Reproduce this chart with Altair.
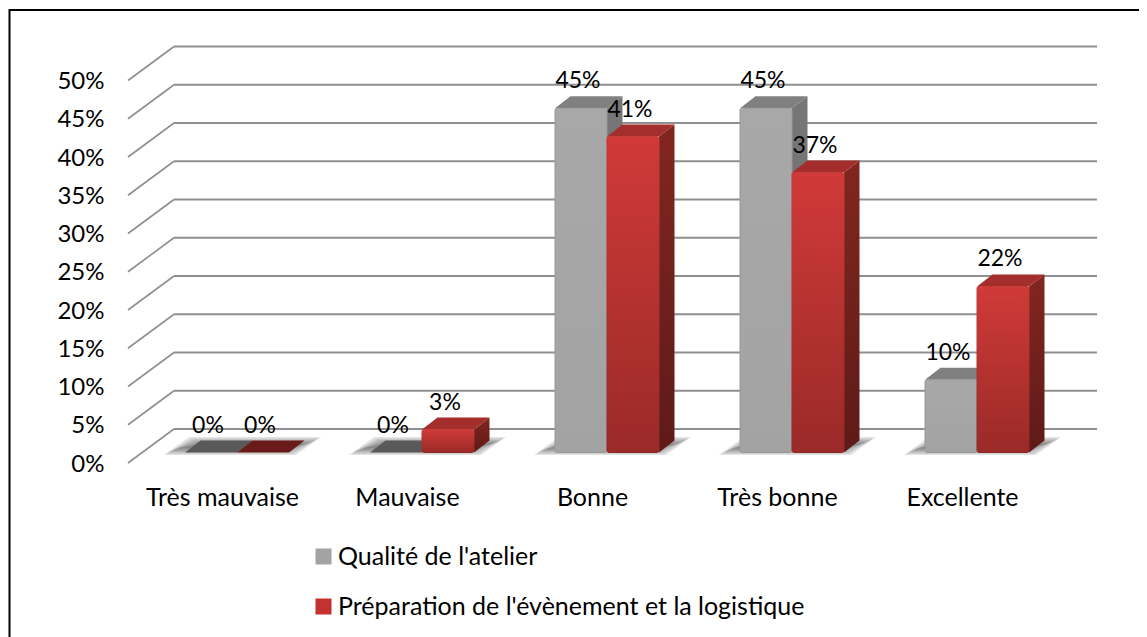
import altair as alt
import pandas as pd

categories = ["Très mauvaise", "Mauvaise", "Bonne", "Très bonne", "Excellente"]
series_names = ["Qualité de l'atelier", "Préparation de l'évènement et la logistique"]
qualite = [0, 0, 45, 45, 9.5]
preparation = [0, 3, 41.3, 36.6, 21.7]
ticks = list(range(0, 55, 5))

# geometry of the fake 3D, in scale units
PX_X = 185.0            # px per category
PX_Y = 7.65             # px per percent
W, H = 969, 417
X0 = (128 - 222) / PX_X
X1 = (1097 - 222) / PX_X
Y1 = H / PX_Y
def ux(px): return px / PX_X
def uy(px): return px / PX_Y
LIFT = uy(10.5)
DX, DY = ux(15.5), uy(12)
BW = ux(52)
LEFT = ux(-37)
WALL_X, WALL_Y = ux(46), uy(34)
FONT = "Lato"

xs = alt.Scale(domain=[X0, X1], nice=False, zero=False)
ys = alt.Scale(domain=[0, Y1], nice=False, zero=False)
names_expr = "[" + ",".join('"' + c + '"' for c in categories) + "][datum.value]"
x_axis = alt.Axis(
    values=list(range(5)), labelExpr=names_expr, title=None, grid=False, domain=False, ticks=False,
    labelFont=FONT, labelFontSize=25, labelColor="#000000", labelPadding=22, labelFlush=False, labelOverlap=False)
y_axis = alt.Axis(
    values=ticks, labelExpr="datum.value + '%'", title=None, grid=False, domain=False, ticks=False,
    labelFont=FONT, labelFontSize=24, labelColor="#000000", labelPadding=24, labelOverlap=False, labelOffset=1)
X = alt.X("x:Q", scale=xs, axis=x_axis)
Y = alt.Y("y:Q", scale=ys, axis=y_axis)

def para(i, x, w, dx, y, dy, g):
    return [
        dict(g=g, i=i, x=x, y=y, y2=y),
        dict(g=g, i=i, x=x + dx, y=y, y2=y + dy),
        dict(g=g, i=i, x=x + w, y=y, y2=y + dy),
        dict(g=g, i=i, x=x + w + dx, y=y + dy, y2=y + dy),
    ]

def side(i, x, dx, y_low, y_high, dy, g):
    return [
        dict(g=g, i=i, x=x, y=y_low, y2=y_high),
        dict(g=g, i=i, x=x + dx, y=y_low + dy, y2=y_high + dy),
    ]

def faces(vals, offset):
    fr, tp, sd = [], [], []
    for i, v in enumerate(vals):
        x = i + LEFT + offset
        fr.append(dict(x=x, x2=x + BW, y=LIFT, y2=LIFT + v, v=v))
        tp += para(i, x, BW, DX, LIFT + v, DY, i)
        if v > 0:
            sd += side(i, x + BW, DX, LIFT, LIFT + v, DY, i)
    return pd.DataFrame(fr), pd.DataFrame(tp), pd.DataFrame(sd)

def area_layer(df, fill):
    return alt.Chart(df).mark_area(fill=fill, line=False).encode(x=X, y=Y, y2="y2:Q", detail="g:N")

def vgrad(a, b):
    return alt.Gradient(gradient="linear", x1=0, y1=0, x2=0, y2=1,
                        stops=[alt.GradientStop(color=a, offset=0), alt.GradientStop(color=b, offset=1)])

def bar_set(vals, offset, front, edge, side_fill, top_fill, zero_top):
    fr, tp, sd = faces(vals, offset)
    zero_ids = [i for i, v in enumerate(vals) if v == 0]
    layers = []
    if len(sd):
        layers.append(area_layer(sd, side_fill))
    layers.append(area_layer(tp[~tp.i.isin(zero_ids)], top_fill))
    if zero_ids:
        layers.append(area_layer(tp[tp.i.isin(zero_ids)], zero_top))
    layers.append(
        alt.Chart(fr[fr.v > 0]).mark_rect(fill=front, stroke=edge, strokeWidth=1, cornerRadius=2).encode(
            x=X, x2="x2:Q", y=Y, y2="y2:Q")
    )
    return layers

# border
border = alt.Chart(pd.DataFrame({"a": [0]})).mark_rect(filled=False, stroke="#000000", strokeWidth=2).encode(
    x=alt.value(-118.5), x2=alt.value(1100), y=alt.value(-36), y2=alt.value(640)
)

# soft floor shadow
shadow_rows = []
for k, ins in enumerate([0, 2.5, 5, 7.5, 10, 12.5]):
    for i in range(len(categories)):
        shadow_rows += para(i, i + ux(-58 + ins), ux(132 - 2 * ins), ux(25), uy(8 + ins * 0.55),
                            uy(18 - ins * 1.1), f"{k}-{i}")
shadow_layer = alt.Chart(pd.DataFrame(shadow_rows)).mark_area(fill="#404040", opacity=0.15, line=False).encode(
    x=X, y=Y, y2="y2:Q", detail="g:N"
)

# gridlines
wall = pd.DataFrame({"y": [t + WALL_Y for t in ticks], "x": X0 + WALL_X, "x2": X1})
wall_rule = alt.Chart(wall).mark_rule(color="#8f8f8f", strokeWidth=2).encode(x=X, x2="x2:Q", y=Y)
slants = pd.DataFrame(
    [dict(t=t, x=X0, y=t) for t in ticks] + [dict(t=t, x=X0 + WALL_X, y=t + WALL_Y) for t in ticks]
)
slant_line = alt.Chart(slants).mark_line(color="#8f8f8f", strokeWidth=1.6).encode(x=X, y=Y, detail="t:N")

# data labels
lab_rows = []
for s, vals, off in [(0, qualite, 0), (1, preparation, BW)]:
    for i, v in enumerate(vals):
        lab_rows.append(dict(x=i + LEFT + off + BW / 2 + ux(-3), y=LIFT + DY + v, t=f"{round(v)}%"))
labels = alt.Chart(pd.DataFrame(lab_rows)).mark_text(font=FONT, fontSize=23, color="#000000", dy=-15, baseline="middle").encode(
    x=X, y=Y, text="t:N"
)

# legend
legend_layer = alt.Chart(pd.DataFrame({"s": series_names})).mark_square(size=0, opacity=1).encode(
    color=alt.Color("s:N", scale=alt.Scale(domain=series_names, range=["#a3a3a3", "#c2332f"]),
                    legend=alt.Legend(orient="none", legendX=183, legendY=498, title=None, symbolType="square",
                                      symbolSize=256, symbolStrokeWidth=0, symbolOpacity=1, labelFont=FONT, labelFontSize=25,
                                      labelColor="#000000", rowPadding=24, labelOffset=2, labelLimit=700))
)

gray = bar_set(qualite, 0, vgrad("#a8a8a8", "#a3a3a3"), "#989898",
               vgrad("#767676", "#707070"), "#808080", "#595959")
red = bar_set(preparation, BW, vgrad("#d03a38", "#9a2a28"), vgrad("#c43c39", "#8f2a28"),
              vgrad("#82261f", "#5e1a18"), "#a32e2b", "#681b18")

chart = alt.layer(
    border, shadow_layer, wall_rule, slant_line, *gray, *red, labels, legend_layer
).properties(
    width=W, height=H,
    padding={"left": 120, "top": 38, "right": 42, "bottom": 174},
    autosize=alt.AutoSizeParams(type="none"),
).configure_view(stroke=None)

chart.save("out.html", embed_options={"renderer": "svg", "actions": False})
